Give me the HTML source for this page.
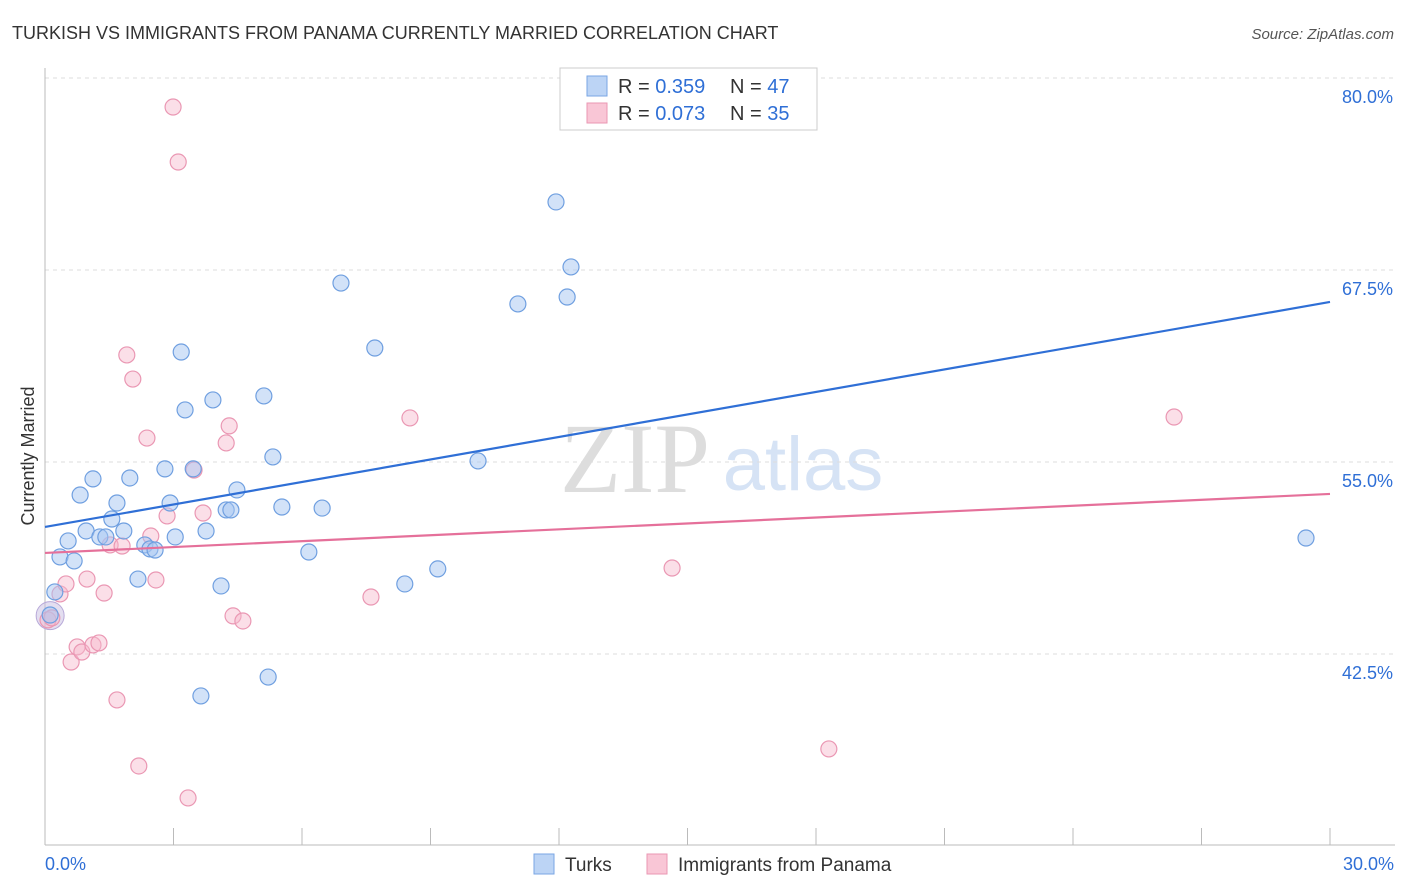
<!DOCTYPE html>
<html><head><meta charset="utf-8"><style>
body{margin:0;background:#fff;font-family:"Liberation Sans",sans-serif}
svg{display:block}
</style></head><body>
<svg width="1406" height="892" id="chart">
<text x="12" y="39" font-size="18" fill="#333">TURKISH VS IMMIGRANTS FROM PANAMA CURRENTLY MARRIED CORRELATION CHART</text>
<text x="1394" y="39" font-size="15" fill="#555" font-style="italic" text-anchor="end">Source: ZipAtlas.com</text>
<text x="34" y="456" font-size="18" fill="#333" transform="rotate(-90 34 456)" text-anchor="middle">Currently Married</text>
<g><text x="635" y="492" font-size="100" fill="#ddd" font-family="Liberation Serif,serif" text-anchor="middle">ZIP</text><text x="803" y="490" font-size="76" fill="#d6e3f5" text-anchor="middle">atlas</text></g>
<g id="grid"></g><g id="axes"></g><g id="marks"></g>
<g>
<rect x="560" y="68" width="257" height="62" fill="#fff" stroke="#ccc"/>
<rect x="587" y="76" width="20" height="20" fill="#bcd4f5" stroke="#7aa6e4"/>
<rect x="587" y="103" width="20" height="20" fill="#f9c6d6" stroke="#ea97b3"/>
<text x="618" y="93" font-size="20" fill="#333">R = <tspan fill="#2f6fd6">0.359</tspan></text>
<text x="730" y="93" font-size="20" fill="#333">N = <tspan fill="#2f6fd6">47</tspan></text>
<text x="618" y="120" font-size="20" fill="#333">R = <tspan fill="#2f6fd6">0.073</tspan></text>
<text x="730" y="120" font-size="20" fill="#333">N = <tspan fill="#2f6fd6">35</tspan></text>
</g>
<g>
<rect x="534" y="854" width="20" height="20" fill="#bcd4f5" stroke="#7aa6e4"/>
<text x="565" y="871" font-size="19" fill="#333">Turks</text>
<rect x="647" y="854" width="20" height="20" fill="#f9c6d6" stroke="#ea97b3"/>
<text x="678" y="871" font-size="19" fill="#333">Immigrants from Panama</text>
</g>
</svg>
<script>
const yTicks=[80,67.5,55,42.5];
const yTickLabels=["80.0%","67.5%","55.0%","42.5%"];
const xEndLabels=["0.0%","30.0%"];
const turksX=[0.23,0.12,0.35,0.54,0.68,0.82,0.96,1.12,1.28,1.42,1.56,1.68,1.84,1.98,2.17,2.33,2.45,2.57,2.80,2.92,3.04,3.18,3.27,3.46,3.64,3.76,3.92,4.11,4.23,4.34,4.48,5.11,5.21,5.32,5.53,6.16,6.47,6.91,7.70,8.40,9.17,10.11,11.04,11.93,12.19,12.28,29.44];
const turksY=[46.54,45.04,48.82,49.86,48.56,52.85,50.51,53.9,50.12,50.12,51.29,52.33,50.51,53.96,47.38,49.6,49.34,49.27,54.55,52.33,50.12,62.16,58.39,54.55,39.77,50.51,59.04,46.93,51.88,51.88,53.18,59.3,41.0,55.33,52.07,49.14,52.0,66.65,62.42,47.06,48.04,55.07,65.29,71.93,65.74,67.7,50.05];
const panX=[0.07,0.16,0.35,0.49,0.61,0.75,0.86,0.98,1.12,1.26,1.38,1.52,1.68,1.80,1.91,2.05,2.19,2.38,2.47,2.59,2.85,2.99,3.11,3.34,3.48,3.69,4.23,4.30,4.39,4.62,7.61,8.52,14.64,18.30,26.36];
const panY=[44.72,44.85,46.41,47.06,41.98,42.96,42.63,47.38,43.09,43.22,46.47,49.6,39.51,49.53,61.97,60.4,35.21,56.56,50.18,47.32,51.49,78.11,74.53,33.13,54.48,51.68,56.24,57.35,44.98,44.65,46.21,57.87,48.1,36.32,57.93];
const turksTrend=[50.77,65.42];
const panTrend=[49.08,52.92];
const NS="http://www.w3.org/2000/svg";
const X=v=>45+v*1285/30, Y=v=>78+(80-v)*15.36;
function mk(tag,attrs,parent){const e=document.createElementNS(NS,tag);for(const k in attrs)e.setAttribute(k,attrs[k]);document.getElementById(parent).appendChild(e);return e;}
yTicks.forEach((t,i)=>{
 let l=mk('line',{x1:45,x2:1395,y1:Y(t),y2:Y(t),stroke:'#ddd','stroke-dasharray':'4,4'},'grid');
 
 
 let tx=mk('text',{x:1393,y:Y(t)+25,'font-size':18,fill:'#2f6fd6','text-anchor':'end'},'grid');tx.textContent=yTickLabels[i];
 
 
});
let ya=mk('line',{x1:45,x2:45,y1:68,y2:845,stroke:'#bbb'},'axes');


let xa=mk('line',{x1:45,x2:1395,y1:845,y2:845,stroke:'#bbb'},'axes');


for(let i=1;i<=10;i++){let t=mk('line',{x1:X(i*3),x2:X(i*3),y1:828,y2:845,stroke:'#bbb'},'axes');
 
 }
[[0,xEndLabels[0],'start',45],[30,xEndLabels[1],'end',1394]].forEach(a=>{let t=mk('text',{x:a[3],y:870,'font-size':18,fill:'#2f6fd6','text-anchor':a[2]},'axes');t.textContent=a[1];
 
 });
let big=mk('circle',{cx:X(0.12),cy:Y(45.0),r:14,fill:'rgba(200,190,225,0.5)',stroke:'#b7a8d8'},'marks');


panX.forEach((x,i)=>{let c=mk('circle',{cx:X(x),cy:Y(panY[i]),r:8,fill:'rgba(247,185,205,0.45)',stroke:'#ea97b3','stroke-width':1.2},'marks');
 
 });
turksX.forEach((x,i)=>{let c=mk('circle',{cx:X(x),cy:Y(turksY[i]),r:8,fill:'rgba(165,198,242,0.5)',stroke:'#6f9fe0','stroke-width':1.2},'marks');
 
 });
let tl=mk('line',{x1:X(0),y1:Y(turksTrend[0]),x2:X(30),y2:Y(turksTrend[1]),stroke:'#2f6fd6','stroke-width':2.2},'marks');


let pl=mk('line',{x1:X(0),y1:Y(panTrend[0]),x2:X(30),y2:Y(panTrend[1]),stroke:'#e5709a','stroke-width':2.2},'marks');


</script>
</body></html>
